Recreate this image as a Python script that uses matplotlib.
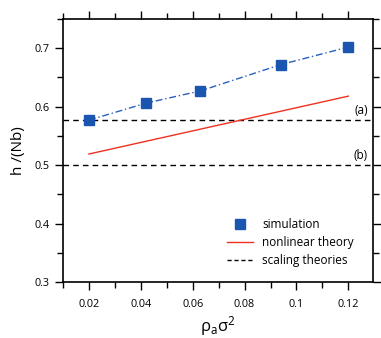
import matplotlib
matplotlib.use("Agg")
import matplotlib.pyplot as plt
from matplotlib.ticker import MultipleLocator

# simulation points
sim_x = [0.02, 0.042, 0.063, 0.094, 0.12]
sim_y = [0.577, 0.606, 0.627, 0.672, 0.702]

# nonlinear theory (straight line)
theory_x = [0.02, 0.12]
theory_y = [0.519, 0.618]

# scaling theories
scaling_a = 0.577
scaling_b = 0.5

xticks = [0.02, 0.04, 0.06, 0.08, 0.1, 0.12]
xtick_labels = ["0.02", "0.04", "0.06", "0.08", "0.1", "0.12"]
yticks = [0.3, 0.4, 0.5, 0.6, 0.7]
ytick_labels = ["0.3", "0.4", "0.5", "0.6", "0.7"]

plt.rcParams['font.family'] = ['Open Sans', 'DejaVu Sans']
plt.rcParams['mathtext.default'] = 'regular'

fig = plt.figure(figsize=(3.81, 3.38), dpi=100)
ax = fig.add_axes([63/381, 1 - 282/338, 310/381, 263/338])

ax.axhline(scaling_a, color='black', ls=(0, (4, 3)), lw=1.0)
ax.axhline(scaling_b, color='black', ls=(0, (4, 3)), lw=1.0)
ax.plot(sim_x, sim_y, color='#2a5fc0', ls=(0, (5, 2, 1, 2)), lw=1.0)
ax.plot(sim_x, sim_y, 's', color='#1a56b0', ms=7, ls='none', label='simulation')
ax.plot(theory_x, theory_y, color='#f03020', lw=1.0, label='nonlinear theory')
ax.plot([], [], color='black', ls=(0, (3, 2)), lw=1.0, label='scaling theories')

ax.text(0.1275, 0.594, "(a)", ha='right', va='center', fontsize=8.5)
ax.text(0.1275, 0.517, "(b)", ha='right', va='center', fontsize=8.5)

ax.set_xlim(0.01, 0.1295)
ax.set_ylim(0.3, 0.75)
ax.set_xticks(xticks)
ax.set_xticklabels(xtick_labels)
ax.set_yticks(yticks)
ax.set_yticklabels(ytick_labels)
ax.xaxis.set_minor_locator(MultipleLocator(0.01))
ax.yaxis.set_minor_locator(MultipleLocator(0.05))
ax.tick_params(which='both', direction='out', top=True, right=True, labelsize=7.8, width=1.0)
ax.tick_params(which='major', length=6)
ax.tick_params(which='minor', length=4)
ax.tick_params(axis='x', which='major', pad=6)
for s in ax.spines.values():
    s.set_linewidth(1.2)

ax.set_xlabel(r'$\rho_a\sigma^2$', fontsize=12, labelpad=3)
ax.set_ylabel('h /(Nb)', fontsize=11, labelpad=6)

h, l = ax.get_legend_handles_labels()
ax.legend(h, l, loc='upper left', bbox_to_anchor=(0.513, 0.262), borderaxespad=0,
          frameon=False, fontsize=8.5, handlelength=2.2, labelspacing=0.45,
          handletextpad=0.8)

fig.savefig("out.png", dpi=100)
